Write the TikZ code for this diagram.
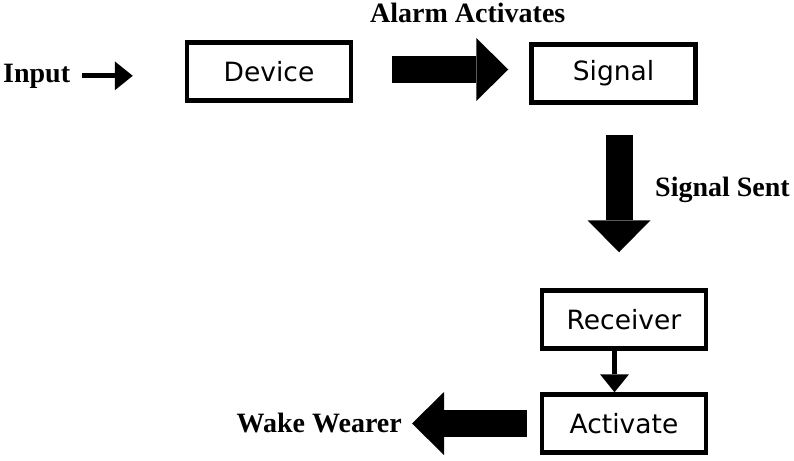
\documentclass[tikz,border=0pt]{standalone}
\usepackage{fontspec}
\setmainfont{Liberation Serif}
\newfontfamily\boxfont{DejaVu Sans}
\usetikzlibrary{arrows.meta}
\begin{document}
\begin{tikzpicture}[x=1pt,y=-1pt,
        stage/.style={draw,line width=4.5pt,minimum width=164pt,minimum height=58pt,font=\boxfont\fontsize{26.5}{31}\selectfont},
        lbl/.style={inner sep=0pt,font=\bfseries\fontsize{28}{34}\selectfont},
        fat/.style={line width=27pt,-{Triangle[width=63pt,length=32pt,line width=0pt]}},
        slim/.style={line width=5pt,-{Triangle[width=29pt,length=18pt,line width=0pt]}}]
    \useasboundingbox (0,0) rectangle (794,460);
    \node[stage] (device) at (269,71.5) {Device};
    \node[stage] (signal) at (613.5,73.5) {Signal};
    \node[stage] (receiver) at (624,319.5) {Receiver};
    \node[stage] (activate) at (624,423.5) {Activate};
    \node[lbl,anchor=base west] (input) at (3,82) {Input};
    \node[lbl,anchor=base west] (alarm) at (370,23) {Alarm Activates};
    \node[lbl,anchor=base west] (sent) at (655,196) {Signal Sent};
    \node[lbl,anchor=base east] (wake) at (402,432) {Wake Wearer};

    \draw[slim,shorten <=12pt,shorten >=52pt] (input.east) to (input.east -| device.west);
    \draw[fat,shorten <=39pt,shorten >=21pt] ([yshift=2pt]device.east) to ([yshift=2pt]device.east -| signal.west);
    \draw[fat,shorten <=30pt,shorten >=36pt] ([xshift=5.5pt]signal.south) to ([xshift=-5pt]receiver.north);
    \draw[slim] ([xshift=-9.5pt]receiver.south) to ([xshift=-9.5pt]activate.north);
    \draw[fat,shorten <=13pt,shorten >=10pt] (activate.west) to (activate.west -| wake.east);
\end{tikzpicture}
\end{document}
